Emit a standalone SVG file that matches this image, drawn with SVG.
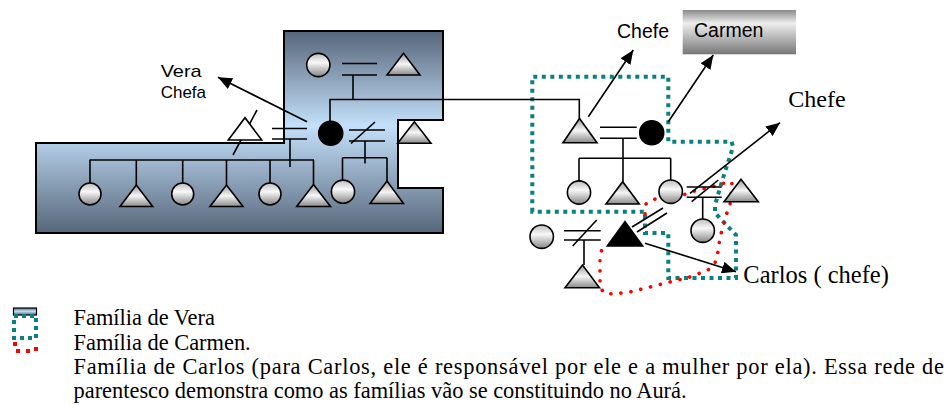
<svg xmlns="http://www.w3.org/2000/svg" width="951" height="405" viewBox="0 0 951 405">
<style>
.ln{stroke:#000;stroke-width:1.6;fill:none}
.arr{stroke:#000;stroke-width:1.6;fill:none;marker-end:url(#ah)}
.cir{fill:url(#gc);stroke:#000;stroke-width:1.6}
.tri{fill:url(#gt);stroke:#000;stroke-width:1.6;stroke-linejoin:miter}
.blk{fill:#000;stroke:#000;stroke-width:1.6}
.sans{font-family:"Liberation Sans",Arial,sans-serif;fill:#000}
.serif{font-family:"Liberation Serif","Times New Roman",serif;fill:#000}
.teal{fill:none;stroke:#0a8080;stroke-width:4;stroke-dasharray:4 4.5}
.red{fill:none;stroke:#ff0000;stroke-width:3.6;stroke-dasharray:0.1 10;stroke-linecap:round;stroke-linejoin:round}
</style>
<defs>
<linearGradient id="gblue" x1="0" y1="0" x2="0" y2="1">
<stop offset="0" stop-color="#56667a"/>
<stop offset="0.47" stop-color="#c4e0fa"/>
<stop offset="1" stop-color="#56667a"/>
</linearGradient>
<linearGradient id="gc" x1="0" y1="0" x2="0" y2="1">
<stop offset="0" stop-color="#bdbdbd"/>
<stop offset="0.4" stop-color="#f8f8f8"/>
<stop offset="1" stop-color="#858585"/>
</linearGradient>
<linearGradient id="gt" x1="0" y1="0" x2="0" y2="1">
<stop offset="0" stop-color="#9a9a9a"/>
<stop offset="0.5" stop-color="#f5f5f5"/>
<stop offset="1" stop-color="#8a8a8a"/>
</linearGradient>
<linearGradient id="gbox" x1="0" y1="0" x2="0" y2="1">
<stop offset="0" stop-color="#8a8a8a"/>
<stop offset="0.3" stop-color="#eeeeee"/>
<stop offset="1" stop-color="#777777"/>
</linearGradient>
<marker id="ah" markerUnits="userSpaceOnUse" markerWidth="15" markerHeight="12" refX="14" refY="6" orient="auto">
<path d="M0,0 L14,6 L0,12 z" fill="#000"/>
</marker>
</defs>
<rect width="951" height="405" fill="#fff"/>

<g id="family-vera">
<polygon points="284,31 443,31 443,120 398,120 398,188 443,188 443,233 36,233 36,143 284,143" fill="url(#gblue)" stroke="#000" stroke-width="2"/>
</g>

<g id="family-carmen">
<path class="teal" d="M532.3,211.7 L532.3,76.7 L668.3,76.7 L668.3,141.7 L731.7,141.7 L733,147 L723,178 L715,205 L715,213 L736,235 L736,278 L668.3,278 L668.3,233 L645,233 L645,211.7 Z"/>
</g>

<g id="family-carlos">
<path class="red" d="M645,214 L646,204 L655,199 L683,195 L693,191.5 L702,189 L712,187 L722,183.5 L732,182 L730,205 L726.5,214 L723,227 L720,237 L718,252 L715,263 L708,270 L690,277 L670,282 L650,287 L630,292 L613,294 L604,293 L600,287 L600,268 L600,258 L602,248"/>
</g>

<g id="connectors">
<!-- Vera's parents -->
<line class="ln" x1="342" y1="63.5" x2="377" y2="63.5"/>
<line class="ln" x1="342" y1="75" x2="377" y2="75"/>
<line class="ln" x1="353" y1="75" x2="353" y2="100"/>
<polyline class="ln" points="330,121 330,99.5 579.3,99.5 579.3,118.5"/>
<!-- Vera first union -->
<line class="ln" x1="272" y1="128.5" x2="307" y2="128.5"/>
<line class="ln" x1="272" y1="139" x2="307" y2="139"/>
<line class="ln" x1="233" y1="155" x2="257" y2="110"/>
<line class="ln" x1="290" y1="139" x2="290" y2="167"/>
<line class="ln" x1="89.5" y1="160" x2="314" y2="160"/>
<line class="ln" x1="90" y1="160" x2="90" y2="183"/>
<line class="ln" x1="136.3" y1="160" x2="136.3" y2="185"/>
<line class="ln" x1="182.7" y1="160" x2="182.7" y2="183"/>
<line class="ln" x1="226.5" y1="160" x2="226.5" y2="185"/>
<line class="ln" x1="270" y1="160" x2="270" y2="183"/>
<line class="ln" x1="313.5" y1="160" x2="313.5" y2="185"/>
<!-- Vera second union -->
<line class="ln" x1="349" y1="130" x2="385" y2="130"/>
<line class="ln" x1="349" y1="141" x2="385" y2="141"/>
<line class="ln" x1="351" y1="143.5" x2="375" y2="122"/>
<line class="ln" x1="365" y1="141" x2="365" y2="163.5"/>
<line class="ln" x1="342.5" y1="157.7" x2="387" y2="157.7"/>
<line class="ln" x1="342.5" y1="157.7" x2="342.5" y2="180"/>
<line class="ln" x1="387" y1="157.7" x2="387" y2="181"/>
<!-- Carmen union -->
<line class="ln" x1="600" y1="127.3" x2="636.7" y2="127.3"/>
<line class="ln" x1="600" y1="138.3" x2="636.7" y2="138.3"/>
<line class="ln" x1="623" y1="138.3" x2="623" y2="181.7"/>
<line class="ln" x1="579" y1="158.3" x2="670.7" y2="158.3"/>
<line class="ln" x1="579" y1="158.3" x2="579" y2="181"/>
<line class="ln" x1="670.7" y1="158.3" x2="670.7" y2="180"/>
<!-- daughter's second union -->
<line class="ln" x1="686.7" y1="187" x2="721.7" y2="187"/>
<line class="ln" x1="686.7" y1="197.3" x2="721.7" y2="197.3"/>
<line class="ln" x1="691.7" y1="201.7" x2="718.3" y2="180"/>
<line class="ln" x1="702.7" y1="197.3" x2="702.7" y2="219"/>
<!-- daughter & Carlos -->
<line class="ln" x1="663" y1="208" x2="632" y2="227"/>
<line class="ln" x1="667" y1="213" x2="637" y2="232"/>
<!-- Carlos previous union -->
<line class="ln" x1="564" y1="230.7" x2="600.7" y2="230.7"/>
<line class="ln" x1="564" y1="240" x2="600.7" y2="240"/>
<line class="ln" x1="572.7" y1="246" x2="596.7" y2="220"/>
<line class="ln" x1="584" y1="240" x2="584" y2="265"/>
<!-- arrows -->
<line class="arr" x1="307" y1="121.7" x2="218" y2="77.3"/>
<line class="arr" x1="588.3" y1="116.7" x2="633.3" y2="50"/>
<line class="arr" x1="668.3" y1="121.7" x2="713.3" y2="55"/>
<line class="arr" x1="690" y1="193.3" x2="780" y2="122.7"/>
<line class="arr" x1="645" y1="243.3" x2="736" y2="271.7"/>
</g>

<g id="vera-mother"><circle class="cir" cx="318.3" cy="65" r="11.6"/></g>
<g id="vera-father"><polygon class="tri" points="387,75 403.5,53.3 420,75"/></g>
<g id="vera"><circle class="blk" cx="330.7" cy="133.3" r="12"/></g>
<g id="vera-husband1"><polygon points="228.3,140 245,117.7 261.7,140" fill="#fff" stroke="#000" stroke-width="1.6"/></g>
<g id="vera-child1"><circle class="cir" cx="90" cy="194" r="11"/></g>
<g id="vera-child2"><polygon class="tri" points="120,206.5 136.3,185 152.7,206.5"/></g>
<g id="vera-child3"><circle class="cir" cx="182.7" cy="194" r="11"/></g>
<g id="vera-child4"><polygon class="tri" points="210,206.5 226.5,185 243,206.5"/></g>
<g id="vera-child5"><circle class="cir" cx="270" cy="194" r="11"/></g>
<g id="vera-child6"><polygon class="tri" points="296.7,206.5 313.5,184.5 330.5,206.5"/></g>
<g id="vera-child7"><circle class="cir" cx="343" cy="191.7" r="11.6"/></g>
<g id="vera-child8"><polygon class="tri" points="370,203.5 387,181 403.5,203.5"/></g>
<g id="vera-husband2"><polygon class="tri" points="397.7,143.3 414.4,121.7 431,143.3"/></g>

<g id="carmen-husband"><polygon class="tri" points="563,142.7 579.5,118.5 597,142.7"/></g>
<g id="carmen"><circle class="blk" cx="651.7" cy="132.7" r="12"/></g>
<g id="carmen-child1"><circle class="cir" cx="579" cy="192.5" r="11.6"/></g>
<g id="carmen-child2"><polygon class="tri" points="606,204 622.7,181.7 639.3,204"/></g>
<g id="carmen-daughter"><circle class="cir" cx="670.7" cy="191.7" r="11.7"/></g>
<g id="daughter-husband"><polygon class="tri" points="724,201.7 741,179.3 758.3,201.7"/></g>
<g id="daughter-child"><circle class="cir" cx="702.7" cy="230.7" r="11.7"/></g>
<g id="carlos"><polygon class="blk" points="607.3,246 625,221.7 642.7,246"/></g>
<g id="carlos-exwife"><circle class="cir" cx="541.7" cy="236.7" r="11.7"/></g>
<g id="carlos-child"><polygon class="tri" points="565,287.7 582.5,265 599.5,287.7"/></g>

<g id="label-carmen">
<rect x="682.7" y="10" width="113.3" height="44.3" fill="url(#gbox)"/>
<text class="sans" x="694" y="36.7" font-size="19.5">Carmen</text>
</g>
<g id="labels">
<text class="sans" x="160.7" y="77.3" font-size="17" textLength="41" lengthAdjust="spacingAndGlyphs">Vera</text>
<text class="sans" x="160.7" y="98.3" font-size="17">Chefa</text>
<text class="sans" x="617" y="38.3" font-size="19.5">Chefe</text>
<text class="serif" x="788.3" y="106.7" font-size="24">Chefe</text>
<text class="serif" x="743.3" y="282.7" font-size="24.5">Carlos ( chefe)</text>
</g>

<g id="legend">
<rect x="13.5" y="308" width="23" height="7" fill="url(#gblue)" stroke="#000" stroke-width="1.2"/>
<rect x="14" y="316" width="22" height="22" fill="none" stroke="#0a8080" stroke-width="4" stroke-dasharray="4 4"/>
<path d="M15,342 L15,351 L36,351 L36,342" fill="none" stroke="#ff0000" stroke-width="4" stroke-dasharray="4 6"/>
<text class="serif" x="73.5" y="325" font-size="22.4">Família de Vera</text>
<text class="serif" x="73.5" y="350" font-size="22.4">Família de Carmen.</text>
<text class="serif" x="73.5" y="374" font-size="22.4" textLength="870.5" lengthAdjust="spacing">Família de Carlos (para Carlos, ele é responsável por ele e a mulher por ela). Essa rede de</text>
<text class="serif" x="73.5" y="398.3" font-size="22.4">parentesco demonstra como as famílias vão se constituindo no Aurá.</text>
</g>
</svg>
